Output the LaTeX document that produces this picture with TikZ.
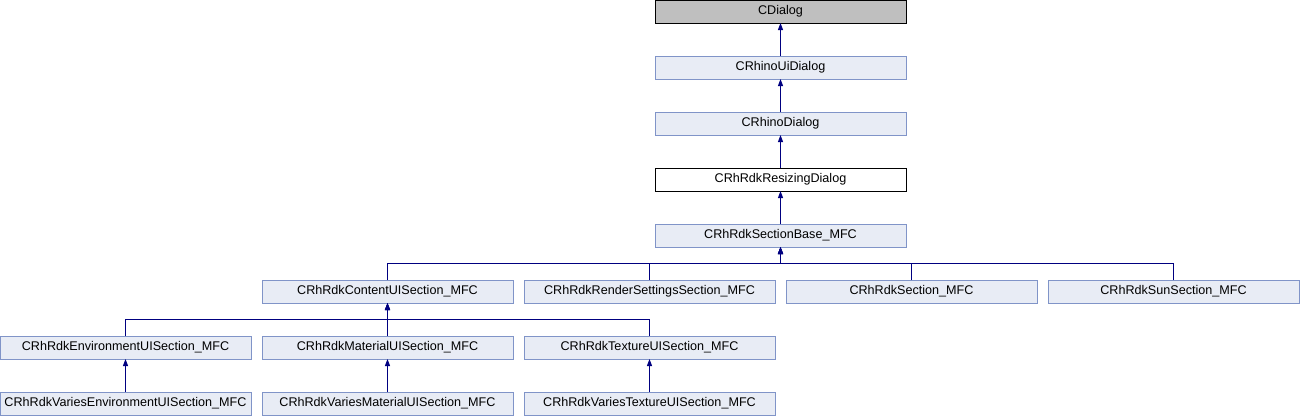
\documentclass[tikz,border=0pt]{standalone}
\usepackage{fontspec}
\setmainfont{Liberation Sans}
\usetikzlibrary{positioning, arrows.meta}
\definecolor{boxFill}{HTML}{E8ECF5}
\definecolor{boxBorder}{HTML}{8094C8}
\definecolor{rootFill}{HTML}{BFBFBF}
\definecolor{edgeBlue}{HTML}{000080}

\tikzset{
  cls/.style={draw=boxBorder, line width=1pt, fill=boxFill, minimum width=251pt,
              minimum height=23pt, inner sep=0pt, outer sep=0pt,
              font=\fontsize{12.6}{14}\selectfont},
  inherit/.style={-{Triangle[length=7pt, width=5pt]}, line width=1pt, edgeBlue}
}

\begin{document}
\begin{tikzpicture}
    \useasboundingbox (0pt,0pt) rectangle (1300pt,-416pt);
    % main chain
    \node[cls, draw=black, fill=rootFill] (cdialog) at (780.5pt,-11.5pt) {CDialog};
    \node[cls, below=33pt of cdialog] (uidialog) {CRhinoUiDialog};
    \node[cls, below=33pt of uidialog] (rhdialog) {CRhinoDialog};
    \node[cls, draw=black, fill=white, below=33pt of rhdialog] (resizing) {CRhRdkResizingDialog};
    \node[cls, below=33pt of resizing] (sectbase) {CRhRdkSectionBase\_MFC};
    % sections
    \node[cls] (content) at (387.5pt,-291.5pt) {CRhRdkContentUISection\_MFC};
    \node[cls, right=11pt of content] (render) {CRhRdkRenderSettingsSection\_MFC};
    \node[cls, right=11pt of render] (section) {CRhRdkSection\_MFC};
    \node[cls, right=11pt of section] (sun) {CRhRdkSunSection\_MFC};
    % content sections
    \node[cls] (env) at (125.5pt,-347.5pt) {CRhRdkEnvironmentUISection\_MFC};
    \node[cls, right=11pt of env] (material) {CRhRdkMaterialUISection\_MFC};
    \node[cls, right=11pt of material] (texture) {CRhRdkTextureUISection\_MFC};
    \node[cls, below=33pt of env] (varenv) {CRhRdkVariesEnvironmentUISection\_MFC};
    \node[cls, below=33pt of material] (varmat) {CRhRdkVariesMaterialUISection\_MFC};
    \node[cls, below=33pt of texture] (vartex) {CRhRdkVariesTextureUISection\_MFC};

    \draw[inherit] (uidialog) -- (cdialog);
    \draw[inherit] (rhdialog) -- (uidialog);
    \draw[inherit] (resizing) -- (rhdialog);
    \draw[inherit] (sectbase) -- (resizing);
    \foreach \c in {content, render, section, sun}
      \draw[inherit] (\c.north) -- ++(0,17pt) -| (sectbase.south);
    \foreach \c in {env, material, texture}
      \draw[inherit] (\c.north) -- ++(0,17pt) -| (content.south);
    \draw[inherit] (varenv) -- (env);
    \draw[inherit] (varmat) -- (material);
    \draw[inherit] (vartex) -- (texture);
\end{tikzpicture}
\end{document}
